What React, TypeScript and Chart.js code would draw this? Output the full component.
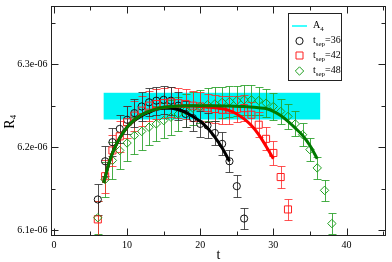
import React, { useEffect, useRef } from 'react';
import { Chart, registerables } from 'chart.js';

Chart.register(...registerables);

const FONT = '"Liberation Serif", "DejaVu Serif", "Times New Roman", serif';

// tsep = 36 (black circles)
const T36 = [6, 7, 8, 9, 10, 11, 12, 13, 14, 15, 16, 17, 18, 19, 20, 21, 22, 23, 24, 25, 26];
const V36 = [6.137, 6.183, 6.206, 6.222, 6.233, 6.241, 6.249, 6.254, 6.256, 6.257, 6.256, 6.25, 6.24, 6.235, 6.228, 6.226, 6.217, 6.204, 6.183, 6.153, 6.114];
const E36 = [0.019, 0.018, 0.017, 0.017, 0.017, 0.017, 0.017, 0.017, 0.017, 0.017, 0.017, 0.017, 0.016, 0.016, 0.016, 0.015, 0.015, 0.014, 0.013, 0.013, 0.013];

// tsep = 42 (red squares)
const T42 = [6, 7, 8, 9, 10, 11, 12, 13, 14, 15, 16, 17, 18, 19, 20, 21, 22, 23, 24, 25, 26, 27, 28, 29, 30, 31, 32];
const V42 = [6.113, 6.165, 6.196, 6.213, 6.23, 6.238, 6.244, 6.25, 6.252, 6.253, 6.254, 6.253, 6.252, 6.25, 6.249, 6.247, 6.246, 6.245, 6.245, 6.246, 6.247, 6.239, 6.227, 6.21, 6.193, 6.164, 6.125];
const E42 = [0.022, 0.02, 0.019, 0.019, 0.019, 0.018, 0.018, 0.018, 0.018, 0.018, 0.018, 0.018, 0.018, 0.018, 0.018, 0.017, 0.017, 0.017, 0.017, 0.016, 0.016, 0.015, 0.015, 0.014, 0.014, 0.013, 0.013];

// tsep = 48 (green diamonds)
const T48 = [6, 7, 8, 9, 10, 11, 12, 13, 14, 15, 16, 17, 18, 19, 20, 21, 22, 23, 24, 25, 26, 27, 28, 29, 30, 31, 32, 33, 34, 35, 36, 37, 38];
const V48 = [6.115, 6.161, 6.184, 6.196, 6.205, 6.214, 6.219, 6.224, 6.228, 6.232, 6.236, 6.24, 6.244, 6.247, 6.249, 6.251, 6.252, 6.254, 6.255, 6.256, 6.257, 6.257, 6.256, 6.253, 6.249, 6.243, 6.237, 6.228, 6.215, 6.197, 6.175, 6.148, 6.108];
const E48 = [0.02, 0.021, 0.022, 0.022, 0.022, 0.022, 0.022, 0.021, 0.021, 0.021, 0.021, 0.02, 0.02, 0.02, 0.02, 0.02, 0.02, 0.019, 0.019, 0.018, 0.018, 0.018, 0.017, 0.017, 0.016, 0.015, 0.015, 0.015, 0.014, 0.014, 0.013, 0.013, 0.013];

// fit curves
const FIT_T36 = [6.8, 7.5, 8, 9, 10, 11, 12, 13, 14, 15, 16, 17, 18, 19, 20, 21, 22, 23, 24];
const FIT_V36 = [6.157, 6.18, 6.193, 6.211, 6.224, 6.232, 6.238, 6.242, 6.2455, 6.247, 6.247, 6.245, 6.242, 6.237, 6.231, 6.223, 6.212, 6.199, 6.183];
const FIT_T42 = [6.8, 7.5, 8, 9, 10, 11, 12, 13, 14, 15, 16, 18, 20, 22, 24, 25, 26, 27, 28, 29, 30];
const FIT_V42 = [6.157, 6.18, 6.193, 6.211, 6.224, 6.233, 6.239, 6.243, 6.246, 6.248, 6.249, 6.25, 6.249, 6.2475, 6.244, 6.24, 6.234, 6.226, 6.215, 6.201, 6.186];
const FIT_T48 = [6.8, 7.5, 8, 9, 10, 11, 12, 13, 14, 15, 16, 18, 20, 22, 24, 26, 28, 29, 30, 31, 32, 33, 34, 35, 36];
const FIT_V48 = [6.157, 6.18, 6.193, 6.211, 6.224, 6.233, 6.239, 6.243, 6.246, 6.248, 6.249, 6.25, 6.25, 6.25, 6.2495, 6.249, 6.2475, 6.2465, 6.243, 6.238, 6.231, 6.223, 6.214, 6.202, 6.186];

// A4 band
const BAND_T = [6.8, 36.4];
const BAND_Y = [6.2333, 6.2655];

// axes
const X_TICKS = [0, 10, 20, 30, 40];
const X_MINOR = [5, 15, 25, 35, 45];
const Y_TICKS = [6.1, 6.2, 6.3];
const Y_MINOR = [6.15, 6.25, 6.35];
const Y_TICK_LABELS = ['6.1e-06', '6.2e-06', '6.3e-06'];

const LEGEND_LABELS = ['A', 't', 't', 't'];
const LEGEND_SUBS = ['4', 'sep', 'sep', 'sep'];
const LEGEND_TAILS = ['', '=36', '=42', '=48'];

const C_BLACK = '#111111';
const C_RED = '#ff2020';
const C_GREEN = '#1f9f1f';

function toXY(ts: number[], vs: number[]) {
  return ts.map((t, i) => ({ x: t, y: vs[i] }));
}

function drawMarker(ctx: CanvasRenderingContext2D, kind: string, x: number, y: number, color: string) {
  ctx.save();
  ctx.strokeStyle = color;
  ctx.lineWidth = 1;
  ctx.beginPath();
  if (kind === 'circle') ctx.arc(x, y, 3.6, 0, Math.PI * 2);
  else if (kind === 'rect') ctx.rect(x - 3.5, y - 3.5, 7, 7);
  else {
    ctx.moveTo(x, y - 4.2);
    ctx.lineTo(x + 4.2, y);
    ctx.lineTo(x, y + 4.2);
    ctx.lineTo(x - 4.2, y);
    ctx.closePath();
  }
  ctx.stroke();
  ctx.restore();
}

const customPlugin = {
  id: 'custom',
  beforeDatasetsDraw(chart: any) {
    const { ctx, chartArea: a, scales } = chart;
    const x = scales.x, y = scales.y;
    ctx.save();
    ctx.beginPath();
    ctx.rect(a.left, a.top, a.right - a.left, a.bottom - a.top);
    ctx.clip();
    const bx0 = x.getPixelForValue(BAND_T[0]);
    const bx1 = x.getPixelForValue(BAND_T[1]);
    const by0 = y.getPixelForValue(BAND_Y[1]);
    const by1 = y.getPixelForValue(BAND_Y[0]);
    ctx.fillStyle = '#00f4f4';
    ctx.fillRect(bx0, by0, bx1 - bx0, by1 - by0);
    chart.data.datasets.forEach((ds: any) => {
      if (!ds.errors) return;
      ctx.strokeStyle = ds.errColor;
      ctx.lineWidth = 1;
      ds.data.forEach((p: any, i: number) => {
        const e = ds.errors[i];
        const px = Math.round(x.getPixelForValue(p.x)) + 0.5;
        const yt = Math.round(y.getPixelForValue(p.y + e)) + 0.5;
        const yb = Math.round(y.getPixelForValue(p.y - e)) + 0.5;
        ctx.beginPath();
        ctx.moveTo(px, yt);
        ctx.lineTo(px, yb);
        ctx.moveTo(px - 4, yt);
        ctx.lineTo(px + 4, yt);
        ctx.moveTo(px - 4, yb);
        ctx.lineTo(px + 4, yb);
        ctx.stroke();
      });
    });
    ctx.restore();
  },
  afterDatasetsDraw(chart: any) {
    const { ctx, chartArea: a, scales } = chart;
    const x = scales.x, y = scales.y;
    ctx.save();
    ctx.strokeStyle = '#222';
    ctx.lineWidth = 1;
    const L = Math.round(a.left) + 0.5, R = Math.round(a.right) - 0.5;
    const T = Math.round(a.top) + 0.5, B = Math.round(a.bottom) - 0.5;
    ctx.strokeRect(L, T, R - L, B - T);
    ctx.beginPath();
    const xt = (v: number, len: number) => {
      const px = Math.round(x.getPixelForValue(v)) + 0.5;
      ctx.moveTo(px, B); ctx.lineTo(px, B - len);
      ctx.moveTo(px, T); ctx.lineTo(px, T + len);
    };
    const yt = (v: number, len: number) => {
      const py = Math.round(y.getPixelForValue(v)) + 0.5;
      ctx.moveTo(L, py); ctx.lineTo(L + len, py);
      ctx.moveTo(R, py); ctx.lineTo(R - len, py);
    };
    X_TICKS.forEach((v) => xt(v, 7));
    X_MINOR.forEach((v) => xt(v, 4));
    Y_TICKS.forEach((v) => yt(v, 7));
    Y_MINOR.forEach((v) => yt(v, 4));
    ctx.stroke();

    // tick labels
    ctx.fillStyle = '#000';
    ctx.font = `10px ${FONT}`;
    ctx.textAlign = 'center';
    ctx.textBaseline = 'middle';
    X_TICKS.forEach((v) => ctx.fillText(String(v), x.getPixelForValue(v), B + 9.5));
    ctx.textAlign = 'right';
    Y_TICKS.forEach((v, i) => ctx.fillText(Y_TICK_LABELS[i], L - 4, y.getPixelForValue(v)));
    ctx.restore();
  },
  afterDraw(chart: any) {
    const { ctx, chartArea: a } = chart;
    ctx.save();
    ctx.fillStyle = '#000';
    ctx.font = `14px ${FONT}`;
    ctx.textAlign = 'center';
    ctx.textBaseline = 'middle';
    ctx.fillText('t', (a.left + a.right) / 2, 255);
    ctx.save();
    ctx.translate(10, (a.top + a.bottom) / 2);
    ctx.rotate(-Math.PI / 2);
    ctx.font = `14px ${FONT}`;
    ctx.textAlign = 'left';
    ctx.textBaseline = 'middle';
    const rw = ctx.measureText('R').width;
    const total = rw + 6;
    ctx.fillText('R', -total / 2, 0);
    ctx.font = `9px ${FONT}`;
    ctx.fillText('4', -total / 2 + rw, 4);
    ctx.restore();

    const bx = 288.5, by = 13.5, bw = 53, bh = 67;
    ctx.fillStyle = '#fff';
    ctx.fillRect(bx, by, bw, bh);
    ctx.strokeStyle = '#222';
    ctx.lineWidth = 1;
    ctx.strokeRect(bx, by, bw, bh);
    const rows = [26, 41, 55.5, 71];
    const markers = ['line', 'circle', 'rect', 'diamond'];
    const colors = ['#00ffff', C_BLACK, C_RED, C_GREEN];
    rows.forEach((ry, i) => {
      if (markers[i] === 'line') {
        ctx.strokeStyle = colors[i];
        ctx.lineWidth = 1.5;
        ctx.beginPath();
        ctx.moveTo(292, ry);
        ctx.lineTo(307, ry);
        ctx.stroke();
      } else {
        drawMarker(ctx, markers[i], 299.5, ry, colors[i]);
      }
      ctx.fillStyle = '#000';
      ctx.textAlign = 'left';
      ctx.textBaseline = 'alphabetic';
      ctx.font = `10px ${FONT}`;
      let tx = 313;
      ctx.fillText(LEGEND_LABELS[i], tx, ry + 2);
      tx += ctx.measureText(LEGEND_LABELS[i]).width;
      ctx.font = `7px ${FONT}`;
      ctx.fillText(LEGEND_SUBS[i], tx, ry + 5);
      tx += ctx.measureText(LEGEND_SUBS[i]).width;
      ctx.font = `10px ${FONT}`;
      ctx.fillText(LEGEND_TAILS[i], tx, ry + 2);
    });
    ctx.restore();
  },
};

export default function App() {
  const ref = useRef<HTMLCanvasElement>(null);
  useEffect(() => {
    document.body.style.margin = '0';
    const canvas = ref.current;
    if (!canvas) return;
    const fitLine = (ts: number[], vs: number[], color: string) => ({
      data: toXY(ts, vs),
      showLine: true,
      borderColor: color,
      borderWidth: 3,
      pointRadius: 0,
      cubicInterpolationMode: 'monotone',
      fill: false,
    });
    const pts = (ts: number[], vs: number[], es: number[], color: string, errColor: string, style: string, r: number) => ({
      data: toXY(ts, vs),
      errors: es,
      errColor,
      showLine: false,
      pointStyle: style,
      pointRadius: r,
      pointBorderColor: color,
      pointBackgroundColor: 'rgba(0,0,0,0)',
      pointBorderWidth: 1,
    });
    const chart = new Chart(canvas, {
      type: 'scatter',
      data: {
        datasets: [
          fitLine(FIT_T48, FIT_V48, '#007a00'),
          fitLine(FIT_T42, FIT_V42, '#ff0000'),
          fitLine(FIT_T36, FIT_V36, '#000000'),
          pts(T48, V48, E48, C_GREEN, 'rgba(40,160,40,0.85)', 'rectRot', 4.2),
          pts(T42, V42, E42, C_RED, 'rgba(255,40,40,0.8)', 'rect', 5),
          pts(T36, V36, E36, C_BLACK, 'rgba(50,50,50,0.85)', 'circle', 3.6),
        ] as any,
      },
      options: {
        animation: false,
        responsive: false,
        maintainAspectRatio: false,
        layout: { padding: { top: 3, right: 2, left: 0, bottom: 0 } },
        plugins: { legend: { display: false }, tooltip: { enabled: false } },
        scales: {
          x: {
            type: 'linear',
            min: -0.4,
            max: 45.4,
            grid: { display: false, drawTicks: false },
            border: { display: false },
            ticks: { display: false },
            afterBuildTicks: (s: any) => { s.ticks = X_TICKS.map((v) => ({ value: v })); },
            afterFit: (s: any) => { s.height = 26; },
          },
          y: {
            type: 'linear',
            min: 6.093,
            max: 6.37,
            grid: { display: false, drawTicks: false },
            border: { display: false },
            ticks: { display: false },
            afterBuildTicks: (s: any) => { s.ticks = Y_TICKS.map((v) => ({ value: v })); },
            afterFit: (s: any) => { s.width = 51; },
          },
        },
      } as any,
      plugins: [customPlugin],
    });
    return () => chart.destroy();
  }, []);
  return <canvas ref={ref} width={392} height={262} style={{ display: 'block' }} />;
}
